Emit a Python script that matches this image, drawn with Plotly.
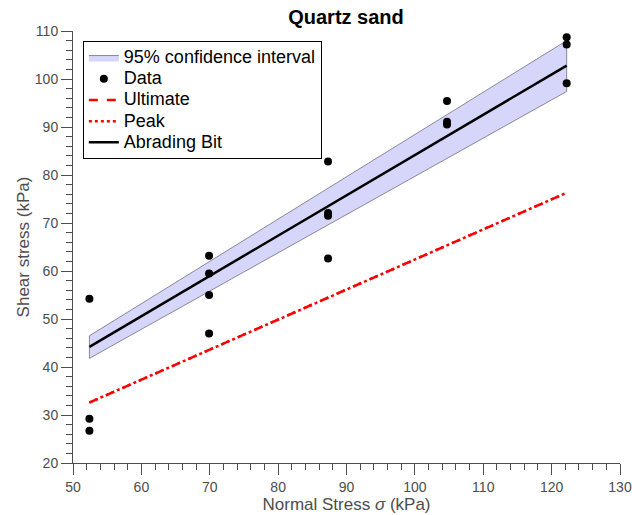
import plotly.graph_objects as go

# ---- data ----
data_x = [52.4, 52.4, 52.4,
          69.9, 69.9, 69.9, 69.9,
          87.3, 87.3, 87.3, 87.3,
          104.7, 104.7, 104.7,
          122.2, 122.2, 122.2]
data_y = [54.2, 29.2, 26.7,
          63.2, 59.5, 55.0, 47.0,
          82.8, 72.1, 71.5, 62.6,
          95.4, 91.1, 90.5,
          108.7, 107.2, 99.1]

fit_x = [52.4, 122.2]
fit_y = [44.2, 102.8]          # Abrading Bit regression line
ci_lower = [41.8, 97.4]         # 95% confidence interval
ci_upper = [46.5, 108.0]
ult_y = [32.6, 76.3]            # Ultimate
peak_y = [32.6, 76.3]           # Peak (coincides with Ultimate)

x_ticks = [50, 60, 70, 80, 90, 100, 110, 120, 130]
y_ticks = [20, 30, 40, 50, 60, 70, 80, 90, 100, 110]

legend_names = ["95% confidence interval", "Data", "Ultimate", "Peak", "Abrading Bit"]

FONT = "Liberation Sans, Arial, Helvetica, sans-serif"
GRAY = "#4d4d4d"


def lg(name):
    return '<span style="font-size:18px">' + name + "</span>"


fig = go.Figure()

band_x = [fit_x[0], fit_x[1], fit_x[1], fit_x[0], fit_x[0]]
band_y = [ci_lower[0], ci_lower[1], ci_upper[1], ci_upper[0], ci_lower[0]]
fig.add_trace(go.Scatter(
    x=band_x, y=band_y, mode="lines", fill="toself",
    fillcolor="rgb(214,214,250)", line=dict(color="#6e6e80", width=0.8),
    name=lg(legend_names[0])))

fig.add_trace(go.Scatter(
    x=data_x, y=data_y, mode="markers",
    marker=dict(color="black", size=8), name=lg(legend_names[1])))

fig.add_trace(go.Scatter(
    x=fit_x, y=ult_y, mode="lines",
    line=dict(color="red", width=2.5, dash="9px,9px"), name=lg(legend_names[2])))

fig.add_trace(go.Scatter(
    x=fit_x, y=peak_y, mode="lines",
    line=dict(color="red", width=2.5, dash="3px,3px"), name=lg(legend_names[3])))

fig.add_trace(go.Scatter(
    x=fit_x, y=fit_y, mode="lines",
    line=dict(color="black", width=2.5), name=lg(legend_names[4])))

axis_common = dict(
    showline=True, linecolor=GRAY, linewidth=1,
    ticks="outside", ticklen=11, tickwidth=1, tickcolor=GRAY,
    showgrid=False, zeroline=False, automargin=False,
    tickfont=dict(family=FONT, size=14, color=GRAY),
    minor=dict(ticks="outside", ticklen=6, tickwidth=1, tickcolor=GRAY, dtick=2),
)

fig.update_layout(
    width=632, height=515,
    margin=dict(l=73, r=12, t=31, b=52),
    paper_bgcolor="white", plot_bgcolor="white",
    font=dict(family=FONT, color=GRAY),
    title=dict(text="<b>Quartz sand</b>", x=346 / 632, xanchor="center",
               y=1 - 17 / 515, yanchor="middle", yref="container",
               font=dict(family=FONT, size=20, color="black")),
    xaxis=dict(range=[50, 130], tickvals=x_ticks, **axis_common,
               title=dict(text="Normal Stress <i>σ</i> (kPa)", standoff=0,
                          font=dict(family=FONT, size=17, color=GRAY))),
    yaxis=dict(range=[20, 110], tickvals=y_ticks, **axis_common,
               title=dict(text="Shear stress (kPa)", standoff=0,
                          font=dict(family=FONT, size=17, color=GRAY))),
    legend=dict(x=0.018, y=0.977, xanchor="left", yanchor="top",
                bgcolor="white", bordercolor="black", borderwidth=1,
                font=dict(family=FONT, size=14, color="black"),
                tracegroupgap=0, itemwidth=30),
    showlegend=True,
)

fig.write_html("out.html", config={"displayModeBar": False},
               post_script="document.body.style.margin='0px';")
